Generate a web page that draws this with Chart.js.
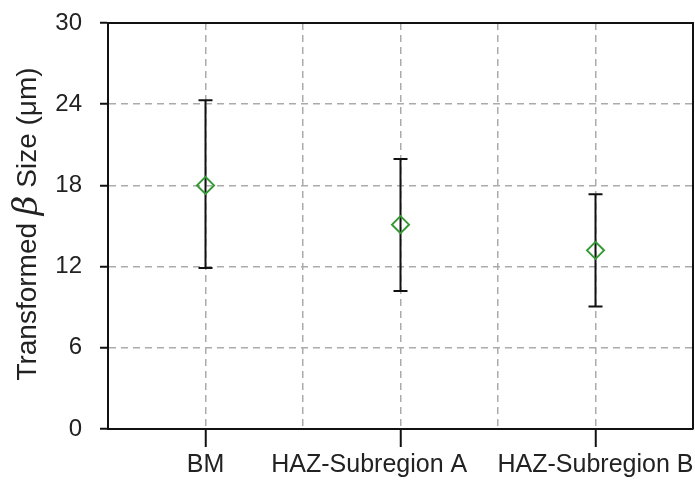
<!DOCTYPE html>
<html>
<head>
<meta charset="utf-8">
<script src="https://cdn.jsdelivr.net/npm/chart.js@4.4.0/dist/chart.umd.min.js"></script>
<style>
  html, body { margin: 0; padding: 0; background: #fff; }
  #wrap { width: 695px; height: 485px; }
</style>
</head>
<body>
<div id="wrap"><canvas id="sizeChart"></canvas></div>
<script>
// Transformed beta grain size per region (mean with min/max bars)
const categories = ["BM", "HAZ-Subregion A", "HAZ-Subregion B"];
const means = [18.0, 15.1, 13.2];
const lowerBar = [11.9, 10.2, 9.05];
const upperBar = [24.3, 19.95, 17.35];
const yTicks = [0, 6, 12, 18, 24, 30];

const FONT = "'Liberation Sans', Arial, sans-serif";
const TEXT = "#222";

// error bars drawn under the markers
const errorBars = {
  id: "errorBars",
  beforeDatasetsDraw(chart) {
    const { ctx, scales: { x, y } } = chart;
    ctx.save();
    ctx.strokeStyle = "#111";
    ctx.lineWidth = 2;
    categories.forEach((c, i) => {
      const px = x.getPixelForValue(i + 1);
      const top = y.getPixelForValue(upperBar[i]);
      const bot = y.getPixelForValue(lowerBar[i]);
      ctx.beginPath();
      ctx.moveTo(px, top); ctx.lineTo(px, bot);
      ctx.moveTo(px - 7, top); ctx.lineTo(px + 7, top);
      ctx.moveTo(px - 7, bot); ctx.lineTo(px + 7, bot);
      ctx.stroke();
    });
    ctx.restore();
  }
};

// closes the box and draws the y title with the italic beta
const frameAndTitle = {
  id: "frameAndTitle",
  afterDraw(chart) {
    const { ctx, chartArea: a } = chart;
    ctx.save();
    ctx.strokeStyle = "#111";
    ctx.lineWidth = 2;
    ctx.beginPath();
    ctx.moveTo(a.left, a.top); ctx.lineTo(a.right, a.top); ctx.lineTo(a.right, a.bottom);
    ctx.stroke();

    const parts = [
      { t: "Transformed ", f: "28px " + FONT },
      { t: "\u03B2", f: "italic 34px 'DejaVu Serif', serif" },
      { t: " Size (\u03BCm)", f: "28px " + FONT }
    ];
    let total = 0;
    parts.forEach(p => { ctx.font = p.f; p.w = ctx.measureText(p.t).width; total += p.w; });
    ctx.translate(28, 224);
    ctx.rotate(-Math.PI / 2);
    ctx.fillStyle = TEXT;
    ctx.textBaseline = "middle";
    let cx = -total / 2;
    parts.forEach(p => { ctx.font = p.f; ctx.fillText(p.t, cx, 0); cx += p.w; });
    ctx.restore();
  }
};

const ctx = document.getElementById("sizeChart").getContext("2d");
new Chart(ctx, {
  type: "scatter",
  data: {
    datasets: [{
      data: means.map((m, i) => ({ x: i + 1, y: m })),
      pointStyle: "rectRot",
      pointRadius: 8.5,
      pointHoverRadius: 8.5,
      borderColor: "#339933",
      backgroundColor: "rgba(0,0,0,0)",
      borderWidth: 2
    }]
  },
  options: {
    responsive: true,
    maintainAspectRatio: false,
    animation: false,
    layout: { autoPadding: false, padding: { left: 0, right: 2, top: 23, bottom: 0 } },
    plugins: { legend: { display: false }, tooltip: { enabled: false } },
    scales: {
      x: {
        type: "linear",
        min: 0.5,
        max: 3.5,
        afterFit(scale) {
          scale.height = 56;
          scale.paddingLeft = 0;
          scale.paddingRight = 0;
        },
        afterBuildTicks(scale) {
          scale.ticks = [0.5, 1, 1.5, 2, 2.5, 3, 3.5].map(v => ({ value: v }));
        },
        ticks: {
          autoSkip: false,
          maxRotation: 0,
          padding: 3,
          color: TEXT,
          font: { family: FONT, size: 25 },
          // middle label sits a little left of its tick in the original
          callback: v => {
            if (!Number.isInteger(v)) return "";
            return v === 2 ? categories[1] + "\u00A0".repeat(9) : categories[v - 1];
          }
        },
        grid: {
          color: "#ababab",
          lineWidth: 1.5,
          tickLength: 18,
          tickWidth: 2,
          tickColor: c => (c.tick && Number.isInteger(c.tick.value)) ? "#111" : "rgba(0,0,0,0)"
        },
        border: { color: "#111", width: 2, dash: [7, 5] }
      },
      y: {
        min: 0,
        max: 30,
        afterFit(scale) {
          scale.width = 108;
          scale.paddingTop = 0;
          scale.paddingBottom = 0;
        },
        afterBuildTicks(scale) {
          scale.ticks = yTicks.map(v => ({ value: v }));
        },
        ticks: {
          padding: 18,
          color: TEXT,
          font: { family: FONT, size: 24 }
        },
        grid: {
          color: "#ababab",
          lineWidth: 1.5,
          tickLength: 8,
          tickWidth: 2,
          tickColor: "#111"
        },
        border: { color: "#111", width: 2, dash: [7, 5] }
      }
    }
  },
  plugins: [errorBars, frameAndTitle]
});
</script>
</body>
</html>
